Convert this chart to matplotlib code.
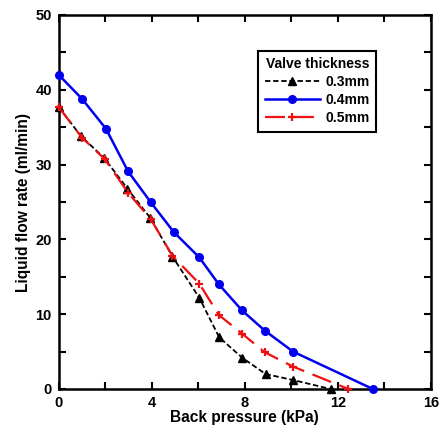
import matplotlib
matplotlib.use("Agg")
import matplotlib.pyplot as plt
from matplotlib.ticker import MultipleLocator, FuncFormatter

plt.rcParams['font.family'] = ['Liberation Sans', 'DejaVu Sans']
plt.rcParams['font.weight'] = 'bold'

x_03 = [0, 0.96, 1.95, 2.95, 3.93, 4.89, 6.04, 6.9, 7.88, 8.89, 10.07, 11.69]
y_03 = [37.7, 33.8, 30.9, 26.8, 22.9, 17.7, 12.2, 6.9, 4.2, 2.0, 1.2, 0.0]
x_04 = [0, 1.0, 2.03, 2.98, 3.96, 4.94, 6.04, 6.88, 7.88, 8.86, 10.07, 13.5]
y_04 = [42.0, 38.8, 34.8, 29.1, 24.95, 21.0, 17.6, 14.0, 10.5, 7.8, 5.0, 0.0]
x_05 = [0, 1.0, 1.99, 2.99, 3.96, 4.89, 6.04, 6.88, 7.88, 8.86, 10.07, 12.45]
y_05 = [37.7, 33.6, 30.7, 26.2, 22.7, 17.8, 14.1, 9.9, 7.4, 4.9, 3.0, 0.0]
labels = ['0.3mm', '0.4mm', '0.5mm']

fig = plt.figure(figsize=(4.42, 4.28), dpi=100)
ax = fig.add_axes([58.7/442, 1 - 389/428, (431 - 58.7)/442, (389 - 15)/428])

ax.plot(x_03, y_03, color='black', linestyle=(0, (3, 1.5)), linewidth=1.3,
        marker='^', markersize=5.5, label=labels[0], clip_on=False, zorder=3)
ax.plot(x_04, y_04, color='#0000ee', linestyle='-', linewidth=1.8,
        marker='o', markersize=5.5, label=labels[1], clip_on=False, zorder=3)
ax.plot(x_05, y_05, color='#ee1111', linestyle=(0, (9, 4)), linewidth=1.6,
        marker='+', markersize=6, markeredgewidth=1.6, label=labels[2], clip_on=False, zorder=4)

ax.set_xlim(0, 16)
ax.set_ylim(0, 50)
ax.xaxis.set_major_locator(MultipleLocator(2))
ax.yaxis.set_major_locator(MultipleLocator(5))
ax.xaxis.set_major_formatter(FuncFormatter(lambda v, p: f"{int(round(v))}" if round(v) % 4 == 0 else ""))
ax.yaxis.set_major_formatter(FuncFormatter(lambda v, p: f"{int(round(v))}" if round(v) % 10 == 0 else ""))
ax.tick_params(direction='in', length=5, width=1.5, top=True, right=True, labelsize=10.5, pad=5)
for s in ax.spines.values():
    s.set_linewidth(1.8)

ax.set_xlabel('Back pressure (kPa)', fontsize=11.2, fontweight='bold', labelpad=0)
ax.set_ylabel('Liquid flow rate (ml/min)', fontsize=11.2, fontweight='bold', labelpad=3)

leg = ax.legend(title='Valve thickness', loc='upper right', bbox_to_anchor=(0.853, 0.905),
                fontsize=10, title_fontproperties={'weight': 'bold', 'size': 10},
                fancybox=False, edgecolor='black', framealpha=1, handlelength=4.0,
                borderpad=0.45, labelspacing=0.3, handletextpad=0.4, borderaxespad=0)
leg.get_frame().set_linewidth(1.5)

fig.savefig('out.png', dpi=100)
